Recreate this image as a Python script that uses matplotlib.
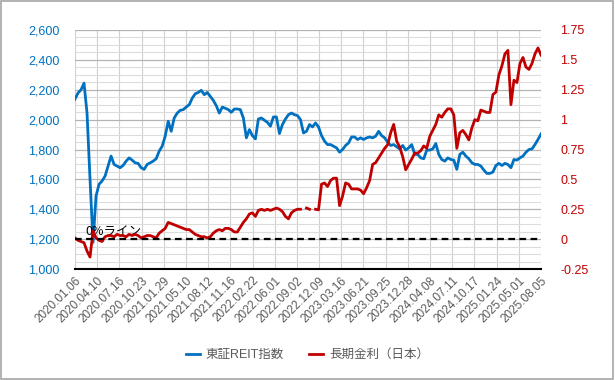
import numpy as np
import matplotlib
matplotlib.use("Agg")
import matplotlib.pyplot as plt
from matplotlib.patches import Rectangle

plt.rcParams['font.family'] = ['Liberation Sans', 'Noto Sans CJK JP', 'DejaVu Sans']

nan = float('nan')

# x-axis category labels (every 66 trading days)
x_labels = ["2020.01.06", "2020.04.10", "2020.07.16", "2020.10.23", "2021.01.29",
            "2021.05.10", "2021.08.12", "2021.11.16", "2022.02.22", "2022.06.01",
            "2022.09.02", "2022.12.09", "2023.03.16", "2023.06.21", "2023.09.25",
            "2023.12.28", "2024.04.08", "2024.07.11", "2024.10.17", "2025.01.24",
            "2025.05.01", "2025.08.05"]
label_step = 66

# TSE REIT index (sampled read-off values)
reit = [2138, 2178, 2200, 2244, 2044, 1600, 1178, 1489, 1567, 1589, 1622, 1689, 1756, 1700,
        1689, 1678, 1693, 1722, 1744, 1729, 1711, 1707, 1678, 1667, 1700, 1711, 1722,
        1738, 1789, 1822, 1889, 1989, 1922, 2011, 2044, 2062, 2067, 2084, 2100, 2144,
        2173, 2182, 2196, 2167, 2182, 2156, 2129, 2093, 2044, 2084, 2076, 2067, 2049,
        2071, 2071, 2067, 2011, 1878, 1933, 1893, 1871, 2004, 2011, 1996, 1982, 1956,
        2018, 2018, 1907, 1967, 2004, 2033, 2044, 2033, 2027, 2000, 1911, 1922,
        1967, 1951, 1978, 1951, 1893, 1856, 1833, 1833, 1822, 1811, 1782, 1800, 1827,
        1844, 1884, 1884, 1867, 1878, 1867, 1878, 1884, 1878, 1889, 1922, 1893, 1878,
        1849, 1827, 1833, 1818, 1804, 1827, 1796, 1811, 1833, 1767, 1767, 1744, 1738,
        1796, 1796, 1804, 1840, 1767, 1733, 1722, 1744, 1733, 1729, 1667, 1767, 1782,
        1756, 1738, 1711, 1700, 1700, 1689, 1662, 1640, 1640, 1649, 1693, 1707, 1693,
        1707, 1700, 1678, 1733, 1729, 1744, 1756, 1782, 1800, 1804, 1833, 1867, 1904]

# Japan 10y government bond yield (%)
jgb = [0.01, -0.01, -0.02, -0.03, -0.10, -0.15, 0.07, 0.01, -0.01, -0.02, 0.02, 0.03, 0.03,
       0.02, 0.04, 0.03, 0.03, 0.02, 0.04, 0.03, 0.04, 0.03, 0.01, 0.02, 0.03, 0.03, 0.02,
       0.01, 0.05, 0.07, 0.09, 0.14, 0.13, 0.12, 0.11, 0.10, 0.09, 0.08, 0.08, 0.06,
       0.04, 0.03, 0.02, 0.02, 0.01, 0.02, 0.05, 0.07, 0.08, 0.07, 0.09, 0.09, 0.08,
       0.06, 0.06, 0.10, 0.14, 0.17, 0.21, 0.22, 0.19, 0.24, 0.25, 0.24, 0.25, 0.24,
       0.25, 0.26, 0.25, 0.23, 0.19, 0.17, 0.22, 0.24, 0.25, 0.25, nan, 0.26,
       0.25, nan, 0.25, 0.245, 0.46, 0.47, 0.44, 0.49, 0.51, 0.51, 0.28, 0.36, 0.47,
       0.46, 0.42, 0.42, 0.42, 0.41, 0.38, 0.43, 0.49, 0.625, 0.64, 0.68, 0.72, 0.76,
       0.79, 0.89, 0.96, 0.82, 0.77, 0.69, 0.58, 0.625, 0.67, 0.72, 0.72, 0.74, 0.78,
       0.76, 0.86, 0.91, 0.96, 1.04, 1.02, 1.06, 1.09, 1.09, 1.04, 0.76, 0.89, 0.91,
       0.875, 0.83, 0.93, 1.00, 0.99, 1.08, 1.07, 1.06, 1.06, 1.21, 1.23, 1.375, 1.45,
       1.55, 1.58, 1.125, 1.33, 1.31, 1.47, 1.52, 1.44, 1.42, 1.47, 1.55, 1.60, 1.54]

left_ticks = [1000, 1200, 1400, 1600, 1800, 2000, 2200, 2400, 2600]
right_ticks = [-0.25, 0, 0.25, 0.5, 0.75, 1, 1.25, 1.5, 1.75]
right_labels = ["-0.25", "0", "0.25", "0.5", "0.75", "1", "1.25", "1.5", "1.75"]

BLUE = "#0070C0"
RED = "#C00000"
TXT = "#595959"

n_days = label_step * (len(x_labels) - 1)
x = np.linspace(0, n_days, len(reit))

fig = plt.figure(figsize=(6.15, 3.80), dpi=100)
ax = fig.add_axes([75 / 615, 1 - 269 / 380, (541 - 75) / 615, (269 - 30) / 380])
ax2 = ax.twinx()

ax.set_xlim(0, n_days)
ax.set_ylim(1000, 2600)
ax2.set_ylim(-0.25, 1.75)

# grid
ax.set_yticks(left_ticks)
ax.set_yticks(np.arange(1000, 2601, 50), minor=True)
ax.grid(axis='y', which='minor', color='#DCDCDC', linewidth=0.8)
ax.grid(axis='y', which='major', color='#B4B4B4', linewidth=0.9)
ax.set_xticks(np.arange(0, n_days + 1, label_step))
ax.grid(axis='x', which='major', color='#D0D0D0', linewidth=0.8)
ax.set_axisbelow(True)

ax.plot(x, reit, color=BLUE, linewidth=2.0, label="東証REIT指数", zorder=3)
ax2.plot(x, jgb, color=RED, linewidth=2.0, label="長期金利（日本）", zorder=3)
ax2.axhline(0, color='black', linewidth=1.6, dashes=(3.0, 2.0), zorder=4)
ax.text(30, 1205, "0%ライン", fontsize=9, color='black',
        family=['Noto Sans CJK JP', 'DejaVu Sans'], va='bottom', ha='left', zorder=5)

# tick labels
ax.set_yticklabels([f"{v:,}" for v in left_ticks])
ax.tick_params(axis='y', which='both', length=0, labelcolor=BLUE, labelsize=9, pad=11)
ax2.set_yticks(right_ticks)
ax2.set_yticklabels(right_labels)
ax2.tick_params(axis='y', length=0, labelcolor=RED, labelsize=9, pad=14)
ax.set_xticklabels(x_labels, rotation=45, ha='right', rotation_mode='anchor')
ax.tick_params(axis='x', length=0, labelcolor=TXT, labelsize=8.5, pad=4)

for a in (ax, ax2):
    for s in ('top', 'left', 'right', 'bottom'):
        a.spines[s].set_visible(False)
ax.axhline(1000, color='black', linewidth=1.5, zorder=5, clip_on=False)

h1, l1 = ax.get_legend_handles_labels()
h2, l2 = ax2.get_legend_handles_labels()
fig.legend(h1 + h2, l1 + l2, loc='center', bbox_to_anchor=(0.5, 1 - 355 / 380),
           ncol=2, frameon=False, fontsize=9, labelcolor=TXT, handlelength=1.1,
           columnspacing=2.0, handletextpad=0.5)

fig.patches.append(Rectangle((0.002, 0.003), 0.995, 0.994, transform=fig.transFigure,
                             fill=False, edgecolor='#A6A6A6', linewidth=1.2))

fig.savefig("out.png", dpi=100, facecolor='white')
